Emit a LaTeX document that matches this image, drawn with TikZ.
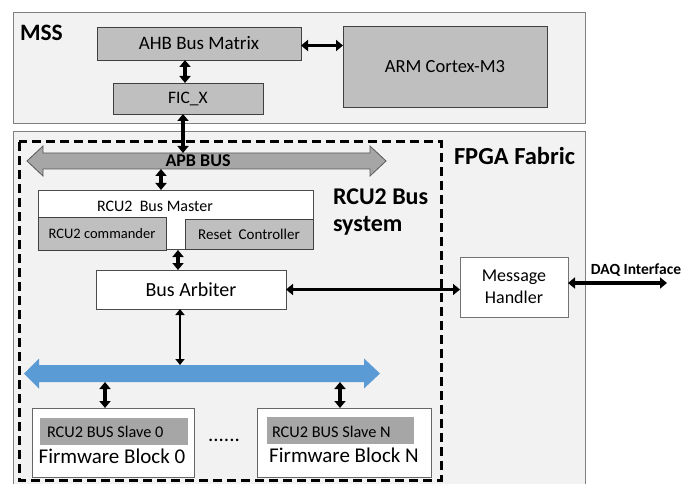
\documentclass[tikz,border=0pt]{standalone}
\usepackage{fontspec}
\setmainfont{Carlito}
\usetikzlibrary{arrows.meta,shadows,calc}
\definecolor{panel}{HTML}{F2F2F2}
\definecolor{panelline}{HTML}{808080}
\definecolor{graybox}{HTML}{BFBFBF}
\definecolor{slavebar}{HTML}{A6A6A6}
\definecolor{busblue}{HTML}{5B9BD5}
\definecolor{apbgray}{HTML}{A6A6A6}
\newcommand{\fsz}[1]{\fontsize{#1}{#1}\selectfont}
\begin{document}
\begin{tikzpicture}[x=1pt,y=-1pt,
  panelbox/.style={draw=panelline, fill=panel, line width=0.9pt},
  shad/.style={drop shadow={shadow xshift=1.3pt,shadow yshift=-1.3pt,fill=black,opacity=0.3}},
  gbox/.style={draw=black!75, fill=graybox, line width=0.8pt, inner sep=0pt, outer sep=0pt, shad},
  wbox/.style={draw=black!70, fill=white, line width=0.8pt, inner sep=0pt, outer sep=0pt},
  dbl/.style={line width=3.6pt, {Triangle[length=7pt,width=11pt]}-{Triangle[length=7pt,width=11pt]}},
  thin dbl/.style={line width=2.4pt, {Triangle[length=6pt,width=9pt]}-{Triangle[length=6pt,width=9pt]}},
  lbl/.style={inner sep=0pt, outer sep=0pt},
]
\useasboundingbox (0,0) rectangle (686,484);
\clip (0,0) rectangle (686,484);

% panels
\draw[panelbox] (13,12) rectangle (585,123);
\draw[panelbox] (13,131) rectangle (585,495);

% dashed RCU2 bus system box
\draw[line width=3pt, dash pattern=on 9pt off 5pt] (19,142) rectangle (441,480);

% APB bus
\draw[draw=black!65, fill=apbgray, line width=0.8pt]
  (27,161) -- (43,146) -- (43,153) -- (370,153) -- (370,146) -- (386,161)
  -- (370,176) -- (370,169) -- (43,169) -- (43,176) -- cycle;
\node[lbl, anchor=base, font=\bfseries\fsz{18}] (apblbl) at (198,167) {APB BUS};
\coordinate (apbtop) at (0,153);
\coordinate (apbbot) at (0,169);

% blue bus
\fill[busblue]
  (24,373.5) -- (39,358.5) -- (39,365) -- (364,365) -- (364,358.5) -- (380,373.5)
  -- (364,388.5) -- (364,382) -- (39,382) -- (39,388.5) -- cycle;
\coordinate (bluetop) at (0,365);
\coordinate (bluebot) at (0,382);

% labels
\node[lbl, anchor=base west, font=\bfseries\fsz{23.5}] (msslbl) at (20,41) {MSS};
\node[lbl, anchor=base west, font=\bfseries\fsz{24.5}] (fpgalbl) at (454,164.5) {FPGA Fabric};
\node[lbl, anchor=north west, align=left, font=\bfseries\fontsize{24}{27}\selectfont] (rcuLbl) at (333,188.5) {RCU2 Bus\\system};

% MSS boxes
\node[gbox, minimum width=204pt, minimum height=33pt, font=\fsz{19}] (ahb) at (199,43.5) {AHB Bus Matrix};
\node[gbox, minimum width=150pt, minimum height=31pt, font=\fsz{17.5}] (fic) at (188,98.5) {FIC\_X};
\node[gbox, minimum width=204pt, minimum height=81pt, font=\fsz{18.5}] (arm) at (445,66.5) {ARM Cortex-M3};

% bus master
\node[wbox, shad, minimum width=275pt, minimum height=59pt] (master) at (175.5,219.5) {};
\node[lbl, font=\fsz{16}] (mastertxt) at (155,206) {RCU2~ Bus Master};
\node[gbox, minimum width=128pt, minimum height=33pt, font=\fsz{14.5}] (cmd) at (102,233.5) {RCU2 commander};
\node[gbox, minimum width=128pt, minimum height=30pt, font=\fsz{15}] (rst) at (249,234) {Reset~ Controller};

% arbiter
\node[wbox, minimum width=190pt, minimum height=39pt, font=\fsz{20}] (arb) at (191,289.5) {Bus Arbiter};

% message handler
\node[wbox, draw=black!55, minimum width=108pt, minimum height=60pt, align=center, font=\fontsize{18}{22}\selectfont] (mh) at (514,287) {Message\\Handler};
\node[lbl, anchor=base, font=\bfseries\fsz{15.5}] (daqlbl) at (636,274) {DAQ Interface};
\coordinate (daq) at (667,283);

% firmware blocks
\node[wbox, draw=black!60, minimum width=162pt, minimum height=69pt] (fw0) at (113,442.5) {};
\node[fill=slavebar, inner sep=0pt, minimum width=148pt, minimum height=27pt] (sl0) at (114,431.5) {};
\node[lbl, anchor=base west, font=\fsz{16.3}] (sl0txt) at (47,437) {RCU2 BUS Slave 0};
\node[lbl, anchor=base, font=\fsz{21}] (fw0txt) at (112,463) {Firmware Block 0};

\node[wbox, draw=black!60, minimum width=174pt, minimum height=69pt] (fwn) at (344,442.5) {};
\node[fill=slavebar, inner sep=0pt, minimum width=147pt, minimum height=27pt] (sln) at (340.5,430.5) {};
\node[lbl, anchor=base west, font=\fsz{16.3}] (slntxt) at (272,437) {RCU2 BUS Slave N};
\node[lbl, anchor=base, font=\fsz{21}] (fwntxt) at (344,462) {Firmware Block N};

\node[lbl, anchor=base, font=\fsz{21}] (dots) at (224,441) {......};

% connectors
\coordinate (c1) at (185,0);
\coordinate (c2) at (183,0);
\coordinate (c3) at (161,0);
\coordinate (c4) at (178,0);
\coordinate (c7) at (180,0);
\coordinate (b0) at (105,0);
\coordinate (bn) at (340,0);
\draw[dbl] ([yshift=-2pt]ahb.east) -- ([yshift=-2pt]ahb.east -| arm.west);
\draw[dbl] (c1 |- ahb.south) -- (c1 |- fic.north);
\draw[dbl] (c2 |- fic.south) -- (c2 |- apbtop);
\draw[dbl] (c3 |- apbbot) -- (c3 |- master.north);
\draw[dbl] (c4 |- cmd.south) -- (c4 |- arb.north);
\draw[dbl] (arb.east) -- (arb.east -| mh.west);
\draw[dbl] (mh.east |- daq) -- (daq);
\draw[thin dbl] (c7 |- arb.south) -- (c7 |- bluetop);
\draw[dbl] (b0 |- bluebot) -- (b0 |- fw0.north);
\draw[dbl] (bn |- bluebot) -- (bn |- fwn.north);
\end{tikzpicture}
\end{document}
